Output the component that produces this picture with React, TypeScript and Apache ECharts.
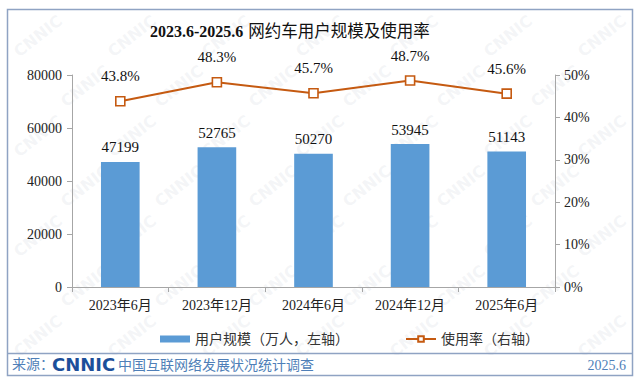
import React, { useEffect, useRef } from "react";
import * as echarts from "echarts";

const categories = ["2023年6月", "2023年12月", "2024年6月", "2024年12月", "2025年6月"];
const userScale = [47199, 52765, 50270, 53945, 51143];
const usageRate = [43.8, 48.3, 45.7, 48.7, 45.6];

const FONT = "'Times New Roman', 'Liberation Serif', 'Noto Sans CJK SC', serif";
const FRAME = "#8fa3c3";
const FOOT = "#4f7fb8";

export default function App() {
  const ref = useRef<HTMLDivElement>(null);
  useEffect(() => {
    document.body.style.margin = "0";
    const chart = echarts.init(ref.current!, null, { renderer: "svg" });
    const marks: any[] = [];
    for (let r = 0; r < 7; r++) {
      for (let c = 0; c < 7; c++) {
        const cx = 38 + c * 94 + (r % 2) * 47;
        const cy = 36 + r * 50;
        if (cx > 604 || cy > 336) continue;
        marks.push({
          type: "text",
          x: cx,
          y: cy,
          rotation: (38 * Math.PI) / 180,
          silent: true,
          z: -10,
          style: {
            text: "CNNIC",
            fontSize: 16,
            fontWeight: "bold",
            fontFamily: "'DejaVu Sans', sans-serif",
            fill: "rgba(185,192,205,0.17)",
            align: "center",
            verticalAlign: "middle",
          },
        });
      }
    }
    chart.setOption({
      animation: false,
      backgroundColor: "#ffffff",
      title: {
        left: 145,
        top: 17,
        text: "{a|2023.6-2025.6} {b|网约车用户规模及使用率}",
        textStyle: {
          rich: {
            a: { fontFamily: FONT, fontWeight: "bold", fontSize: 16, color: "#111" },
            b: { fontFamily: FONT, fontWeight: "normal", fontSize: 16.5, color: "#111" },
          },
        },
      },
      legend: {
        left: 155,
        top: 327,
        itemGap: 56,
        itemWidth: 30,
        itemHeight: 7,
        textStyle: { fontFamily: FONT, fontSize: 14, color: "#333" },
        data: [
          { name: "用户规模（万人，左轴）", icon: "rect" },
          { name: "使用率（右轴）" },
        ],
      },
      grid: { left: 72, right: 85, top: 75, bottom: 97 },
      xAxis: {
        type: "category",
        data: categories,
        boundaryGap: true,
        axisLine: { lineStyle: { color: "#a6a6a6" } },
        axisTick: { show: true, alignWithLabel: false, lineStyle: { color: "#a6a6a6" } },
        axisLabel: { fontFamily: FONT, fontSize: 14, color: "#222", margin: 11 },
      },
      yAxis: [
        {
          type: "value",
          min: 0,
          max: 80000,
          interval: 20000,
          splitLine: { show: false },
          axisLine: { show: true, lineStyle: { color: "#a6a6a6" } },
          axisTick: { show: true, lineStyle: { color: "#a6a6a6" } },
          axisLabel: {
            fontFamily: FONT,
            fontSize: 14,
            color: "#222",
            margin: 10,
            formatter: (v: number) => String(v),
          },
        },
        {
          type: "value",
          min: 0,
          max: 50,
          interval: 10,
          position: "right",
          splitLine: { show: false },
          axisLine: { show: true, lineStyle: { color: "#a6a6a6" } },
          axisTick: { show: true, lineStyle: { color: "#a6a6a6" } },
          axisLabel: { fontFamily: FONT, fontSize: 14, color: "#222", margin: 9, formatter: "{value}%" },
        },
      ],
      series: [
        {
          name: "用户规模（万人，左轴）",
          type: "bar",
          data: userScale,
          barWidth: "40%",
          itemStyle: { color: "#5b9bd5" },
          label: {
            show: true,
            position: "top",
            distance: 7,
            fontFamily: FONT,
            fontSize: 15,
            color: "#111",
          },
        },
        {
          name: "使用率（右轴）",
          type: "line",
          yAxisIndex: 1,
          data: usageRate,
          symbol: "rect",
          symbolSize: 9,
          z: 5,
          lineStyle: { color: "#c55a11", width: 2 },
          itemStyle: { color: "#ffffff", borderColor: "#c55a11", borderWidth: 1.6 },
          label: {
            show: true,
            position: "top",
            distance: 12,
            fontFamily: FONT,
            fontSize: 15,
            color: "#111",
            formatter: (p: any) => p.value.toFixed(1) + "%",
          },
        },
      ],
      graphic: [
        ...marks,
        {
          type: "rect",
          silent: true,
          shape: { x: 7.5, y: 9.5, width: 625, height: 366 },
          style: { fill: "none", stroke: FRAME, lineWidth: 1.5 },
        },
        {
          type: "line",
          silent: true,
          shape: { x1: 7.5, y1: 353.5, x2: 632.5, y2: 353.5 },
          style: { stroke: FRAME, lineWidth: 1.5 },
        },
        {
          type: "text",
          x: 12,
          y: 364,
          style: { text: "来源：", fontFamily: FONT, fontSize: 14, fill: FOOT, verticalAlign: "middle" },
        },
        {
          type: "text",
          x: 52,
          y: 364,
          style: {
            text: "CNNIC",
            fontFamily: "'DejaVu Sans', sans-serif",
            fontWeight: 900,
            fontSize: 18,
            fill: "#1c4f9a",
            verticalAlign: "middle",
          },
        },
        {
          type: "text",
          x: 118,
          y: 365,
          style: { text: "中国互联网络发展状况统计调查", fontFamily: FONT, fontSize: 14, fill: FOOT, verticalAlign: "middle" },
        },
        {
          type: "text",
          x: 626,
          y: 365,
          style: { text: "2025.6", fontFamily: FONT, fontSize: 14, fill: FOOT, align: "right", verticalAlign: "middle" },
        },
      ],
    });
    return () => chart.dispose();
  }, []);
  return <div ref={ref} style={{ width: 640, height: 384 }} />;
}
